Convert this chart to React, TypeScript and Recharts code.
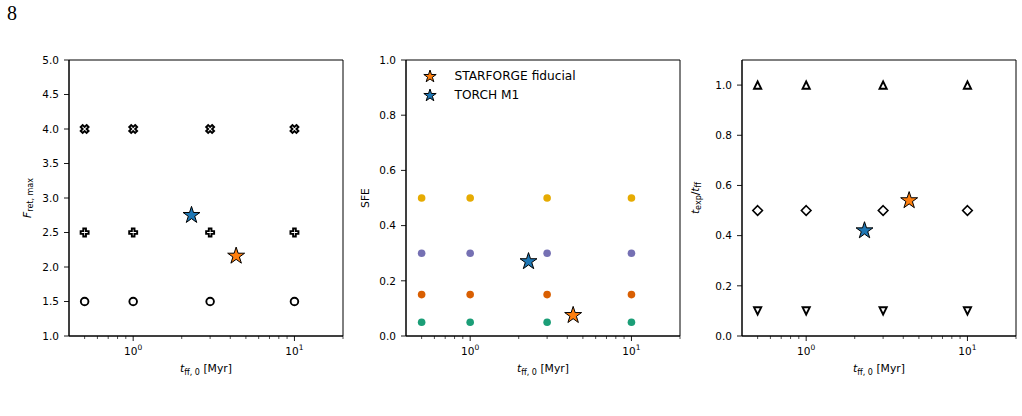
import React from 'react';
import { ScatterChart, Scatter, XAxis, YAxis, ReferenceArea, Legend } from 'recharts';

// free-fall times of the grid runs [Myr]
const tffRuns = [0.5, 1, 3, 10];

// grid levels per panel
const fretLevels = [4.0, 2.5, 1.5];
const fretMarkers = ['X', 'P', 'o'];
const sfeLevels = [0.5, 0.3, 0.15, 0.05];
const sfeColors = ['#E6AB02', '#7570B3', '#D95F02', '#1B9E77'];
const texpLevels = [1.0, 0.5, 0.1];
const texpMarkers = ['^', 'D', 'v'];

// reference simulations (stars)
const refNames = ['STARFORGE fiducial', 'TORCH M1'];
const refColors = ['#ff7f0e', '#1f77b4'];
const refTff = [4.35, 2.3];
const refFret = [2.16, 2.75];
const refSfe = [0.075, 0.27];
const refTexp = [0.54, 0.42];

// axis ticks
const xMajorTicks = [1, 10];
const xMinorTicks = [0.5, 0.6, 0.7, 0.8, 0.9, 2, 3, 4, 5, 6, 7, 8, 9, 20];
const fretTicks = [1.0, 1.5, 2.0, 2.5, 3.0, 3.5, 4.0, 4.5, 5.0];
const sfeTicks = [0, 0.2, 0.4, 0.6, 0.8, 1.0];
const texpTicks = [0, 0.2, 0.4, 0.6, 0.8, 1.0];

const FONT = '"DejaVu Sans", sans-serif';
const PLOT_W = 274;
const PLOT_H = 276;
const Y_AXIS_W = 60;

const starPath = (cx: number, cy: number, r: number) => {
    const inner = r * 0.381966;
    let d = '';
    for (let i = 0; i < 10; i++) {
        const rad = i % 2 === 0 ? r : inner;
        const a = -Math.PI / 2 + (i * Math.PI) / 5;
        d += `${i === 0 ? 'M' : 'L'}${cx + rad * Math.cos(a)},${cy + rad * Math.sin(a)}`;
    }
    return d + 'Z';
};

const plusPts = [[-1, -3], [1, -3], [1, -1], [3, -1], [3, 1], [1, 1], [1, 3], [-1, 3], [-1, 1], [-3, 1], [-3, -1], [-1, -1]];

const plusPath = (cx: number, cy: number, s: number, rotate: boolean) => {
    const c = Math.SQRT1_2;
    return plusPts.map(([px, py], i) => {
        let x = (px / 6) * s;
        let y = (py / 6) * s;
        if (rotate) {
            const rx = (x - y) * c;
            const ry = (x + y) * c;
            x = rx * 1.2;
            y = ry * 1.2;
        }
        return `${i === 0 ? 'M' : 'L'}${cx + x},${cy + y}`;
    }).join('') + 'Z';
};

const Marker = ({ cx, cy, kind }: { cx: number; cy: number; kind: string }) => {
    const common = { fill: '#fff', stroke: '#000', strokeWidth: 1.9, strokeLinejoin: 'miter' as const };
    if (kind === 'o') return <circle cx={cx} cy={cy} r={3.8} {...common} />;
    if (kind === 'X') return <path d={plusPath(cx, cy, 7, true)} {...common} />;
    if (kind === 'P') return <path d={plusPath(cx, cy, 8, false)} {...common} />;
    if (kind === 'D') {
        const h = 4.8;
        return <path d={`M${cx},${cy - h}L${cx + h},${cy}L${cx},${cy + h}L${cx - h},${cy}Z`} {...common} strokeWidth={1.6} />;
    }
    const h = 3.6;
    const dir = kind === '^' ? 1 : -1;
    return <path d={`M${cx},${cy - dir * h}L${cx + h},${cy + dir * h}L${cx - h},${cy + dir * h}Z`} {...common} />;
};

const XTick = (props: any) => {
    const { x, y, payload } = props;
    const major = xMajorTicks.includes(payload.value);
    return (
        <g>
            <line x1={x} x2={x} y1={y} y2={y + (major ? 5 : 3)} stroke="#000" strokeWidth={major ? 0.9 : 0.7} />
            {major && (
                <text x={x} y={y + 18.5} textAnchor="middle" fontSize={10.5} fill="#000" fontFamily={FONT}>
                    10<tspan dy={-4.5} fontSize={7.5}>{Math.round(Math.log10(payload.value))}</tspan>
                </text>
            )}
        </g>
    );
};

const XLabel = (props: any) => {
    const { x, y, width } = props.viewBox;
    return (
        <text x={x + width / 2} y={y + 36} textAnchor="middle" fontSize={10.8} fill="#000" fontFamily={FONT}>
            <tspan fontStyle="italic">t</tspan>
            <tspan dy={2.5} fontSize={8}>ff, 0</tspan>
            <tspan dy={-2.5}> [Myr]</tspan>
        </text>
    );
};

const yLabelRenderer = (kind: string, offset: number) => (props: any) => {
    const { x, y, width, height } = props.viewBox;
    const cx = x + width - offset + 3.5;
    const cy = y + height / 2;
    let content: React.ReactNode;
    if (kind === 'fret') {
        content = (
            <>
                <tspan fontStyle="italic">F</tspan>
                <tspan dy={2.5} fontSize={8}>ret, max</tspan>
            </>
        );
    } else if (kind === 'sfe') {
        content = 'SFE';
    } else {
        content = (
            <>
                <tspan fontStyle="italic">t</tspan>
                <tspan dy={2.5} fontSize={8}>exp</tspan>
                <tspan dy={-2.5}>/</tspan>
                <tspan fontStyle="italic">t</tspan>
                <tspan dy={2.5} fontSize={8}>ff</tspan>
            </>
        );
    }
    return (
        <text x={cx} y={cy} transform={`rotate(-90 ${cx} ${cy})`} textAnchor="middle" fontSize={10.8} fill="#000" fontFamily={FONT}>
            {content}
        </text>
    );
};

const StarLegend = () => (
    <div style={{ fontFamily: FONT, fontSize: 12.2, color: '#000' }}>
        {refNames.map((name, i) => (
            <div key={name} style={{ display: 'flex', alignItems: 'center', height: 19 }}>
                <svg width={14} height={14} style={{ marginRight: 18 }}>
                    <path d={starPath(7, 7.5, 6.5)} fill={refColors[i]} stroke="#000" strokeWidth={1} />
                </svg>
                <span>{name}</span>
            </div>
        ))}
    </div>
);

const refSeries = (values: number[]) =>
    refNames.map((name, i) => (
        <Scatter
            key={name}
            name={name}
            data={[{ x: refTff[i], y: values[i] }]}
            isAnimationActive={false}
            shape={(p: any) => <path d={starPath(p.cx, p.cy, 8.9)} fill={refColors[i]} stroke="#000" strokeWidth={1} />}
        />
    ));

interface PanelProps {
    plotLeft: number;
    yDomain: [number, number];
    yTicks: number[];
    yLabel: string;
    yLabelOffset: number;
    children: React.ReactNode;
}

const Panel = ({ plotLeft, yDomain, yTicks, yLabel, yLabelOffset, children }: PanelProps) => (
    <div style={{ position: 'absolute', left: plotLeft - Y_AXIS_W, top: 50 }}>
        <ScatterChart
            width={Y_AXIS_W + PLOT_W + 6}
            height={10 + PLOT_H + 60}
            margin={{ top: 10, right: 6, bottom: 0, left: 0 }}
        >
            <XAxis
                dataKey="x"
                type="number"
                scale="log"
                domain={[0.4, 20]}
                allowDataOverflow
                ticks={[...xMajorTicks, ...xMinorTicks]}
                interval={0}
                tickSize={0}
                tickMargin={0}
                tickLine={false}
                axisLine={{ stroke: '#000' }}
                tick={XTick}
                height={60}
                label={XLabel}
            />
            <YAxis
                dataKey="y"
                type="number"
                domain={yDomain}
                allowDataOverflow
                ticks={yTicks}
                interval={0}
                width={Y_AXIS_W}
                tickSize={5}
                tickMargin={5}
                tickLine={{ stroke: '#000', strokeWidth: 0.9 }}
                axisLine={{ stroke: '#000' }}
                tick={{ fontSize: 10.5, fill: '#000', fontFamily: FONT }}
                tickFormatter={(v: number) => v.toFixed(1)}
                label={yLabelRenderer(yLabel, yLabelOffset)}
            />
            {children}
            <ReferenceArea x1={0.4} x2={20} y1={yDomain[0]} y2={yDomain[1]} fill="none" stroke="#000" strokeWidth={1} ifOverflow="visible" />
        </ScatterChart>
    </div>
);

const App = () => {
    return (
        <div style={{ position: 'absolute', left: 0, top: 0, width: 1022, height: 416, background: '#fff', overflow: 'hidden' }}>
            <div style={{ position: 'absolute', left: 7, top: 0, fontFamily: '"Liberation Serif", serif', fontSize: 20, lineHeight: '26px' }}>8</div>

            <Panel plotLeft={69} yDomain={[1, 5]} yTicks={fretTicks} yLabel="fret" yLabelOffset={42}>
                {fretLevels.map((level, i) => (
                    <Scatter
                        key={level}
                        data={tffRuns.map((t) => ({ x: t, y: level }))}
                        isAnimationActive={false}
                        legendType="none"
                        shape={(p: any) => <Marker cx={p.cx} cy={p.cy} kind={fretMarkers[i]} />}
                    />
                ))}
                {refSeries(refFret)}
            </Panel>

            <Panel plotLeft={405.5} yDomain={[0, 1]} yTicks={sfeTicks} yLabel="sfe" yLabelOffset={41}>
                {sfeLevels.map((level, i) => (
                    <Scatter
                        key={level}
                        data={tffRuns.map((t) => ({ x: t, y: level }))}
                        isAnimationActive={false}
                        legendType="none"
                        shape={(p: any) => <circle cx={p.cx} cy={p.cy} r={3.8} fill={sfeColors[i]} />}
                    />
                ))}
                {refSeries(refSfe)}
                <Legend
                    layout="horizontal"
                    verticalAlign="middle"
                    align="center"
                    wrapperStyle={{ left: 77, top: 16, width: 200 }}
                    content={StarLegend}
                />
            </Panel>

            <Panel plotLeft={741.5} yDomain={[0, 1.1]} yTicks={texpTicks} yLabel="texp" yLabelOffset={47}>
                {texpLevels.map((level, i) => (
                    <Scatter
                        key={level}
                        data={tffRuns.map((t) => ({ x: t, y: level }))}
                        isAnimationActive={false}
                        legendType="none"
                        shape={(p: any) => <Marker cx={p.cx} cy={p.cy} kind={texpMarkers[i]} />}
                    />
                ))}
                {refSeries(refTexp)}
            </Panel>
        </div>
    );
};

export default App;
